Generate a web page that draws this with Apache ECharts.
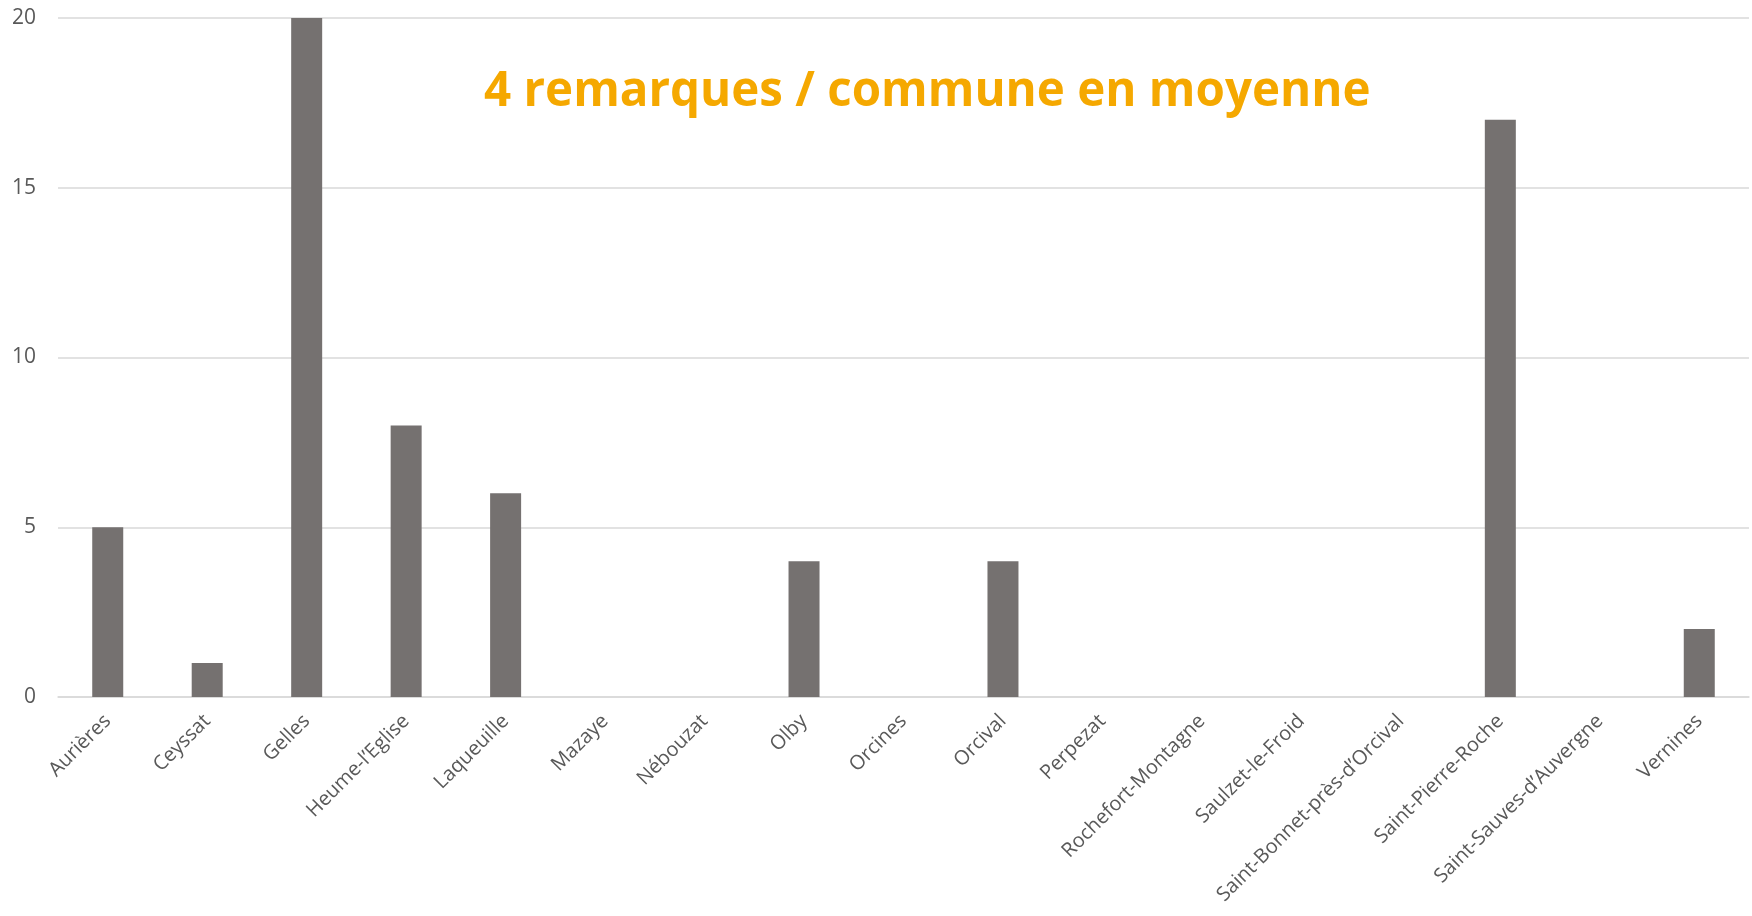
<!DOCTYPE html>
<html>
<head>
<meta charset="utf-8">
<script src="https://cdn.jsdelivr.net/npm/echarts@6/dist/echarts.min.js"></script>
<style>
  html, body { margin: 0; padding: 0; background: #fff; }
  #chart { width: 1752px; height: 916px; }
</style>
</head>
<body>
<div id="chart"></div>
<script>
let communes = ['Aurières', 'Ceyssat', 'Gelles', 'Heume-l’Eglise', 'Laqueuille', 'Mazaye', 'Nébouzat',
    'Olby', 'Orcines', 'Orcival', 'Perpezat', 'Rochefort-Montagne', 'Saulzet-le-Froid',
    'Saint-Bonnet-près-d’Orcival', 'Saint-Pierre-Roche', 'Saint-Sauves-d’Auvergne', 'Vernines'];
let remarques = [5, 1, 20, 8, 6, 0, 0, 4, 0, 4, 0, 0, 0, 0, 17, 0, 2];
let yTicks = [0, 5, 10, 15, 20];
let titre = '4 remarques / commune en moyenne';

let chartDom = document.getElementById('chart');
let myChart = echarts.init(chartDom);
let option;

option = {
    animation: false,
    title: {
        text: titre,
        left: 479,
        top: 63,
        textStyle: {
            color: '#F5A800',
            fontFamily: 'Open Sans',
            fontWeight: 'bold',
            fontSize: 47.5
        }
    },
    grid: {
        left: 58,
        right: 3,
        top: 18,
        bottom: 219
    },
    xAxis: {
        type: 'category',
        data: communes,
        axisLine: { lineStyle: { color: '#d9d9d9', width: 1.5 } },
        axisTick: { show: false },
        axisLabel: {
            rotate: 45,
            interval: 0,
            margin: 21,
            color: '#595959',
            fontFamily: 'Open Sans',
            fontSize: 20
        }
    },
    yAxis: {
        type: 'value',
        min: yTicks[0],
        max: yTicks[yTicks.length - 1],
        interval: yTicks[1] - yTicks[0],
        axisLine: { show: false },
        axisTick: { show: false },
        splitLine: { lineStyle: { color: '#d9d9d9', width: 1.5 } },
        axisLabel: {
            margin: 22,
            color: '#595959',
            fontFamily: 'Open Sans',
            fontSize: 21
        }
    },
    series: [
        {
            type: 'bar',
            data: remarques,
            barWidth: 31,
            itemStyle: { color: '#757170' }
        }
    ]
};

option && myChart.setOption(option);
</script>
</body>
</html>
